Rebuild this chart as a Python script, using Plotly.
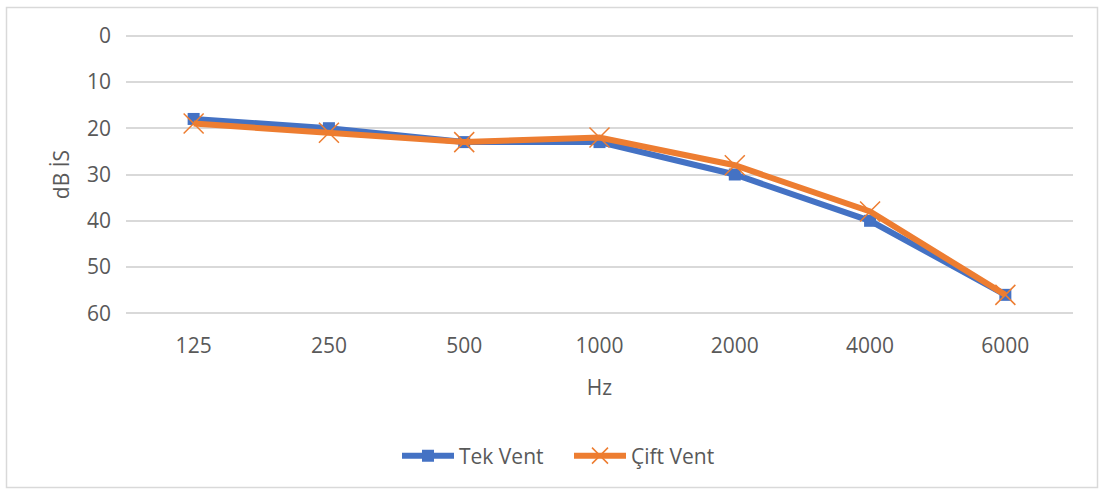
import plotly.graph_objects as go

# Audiogram-style data: hearing level (dB İS) per frequency (Hz)
frequencies = ["125", "250", "500", "1000", "2000", "4000", "6000"]
tek_vent = [18, 20, 23, 23, 30, 40, 56]
cift_vent = [19, 21, 23, 22, 28, 38, 56]

BLUE = "#4472C4"
ORANGE = "#ED7D31"
TEXT = "#595959"
GRID = "#D9D9D9"
FONT = "Open Sans"
FS = 21

fig = go.Figure()

fig.add_trace(go.Scatter(
    x=frequencies, y=tek_vent, name="Tek Vent", mode="lines+markers",
    line=dict(color=BLUE, width=6),
    marker=dict(symbol="square", size=12, color=BLUE),
))
fig.add_trace(go.Scatter(
    x=frequencies, y=cift_vent, name="Çift Vent", mode="lines+markers",
    line=dict(color=ORANGE, width=6),
    marker=dict(symbol="x-thin", size=20, color=ORANGE,
                line=dict(color=ORANGE, width=1.5)),
))

W, H = 1101, 492
L, R, T, B = 126, 28, 31, 174
pw, ph = W - L - R, H - T - B

def px_to_paper_x(px):
    return (px - L) / pw

def px_to_paper_y(py):
    return 1 - (py - T) / ph

fig.update_layout(
    width=W, height=H,
    margin=dict(l=L, r=R, t=T, b=B),
    paper_bgcolor="white", plot_bgcolor="white",
    font=dict(family=FONT, color=TEXT, size=FS),
    showlegend=True,
    legend=dict(orientation="h", x=px_to_paper_x(397), xanchor="left",
                y=px_to_paper_y(456), yanchor="middle",
                font=dict(size=FS, color=TEXT), itemwidth=52,
                entrywidth=105, traceorder="normal"),
    xaxis=dict(
        type="category", range=[-0.5, 6.5],
        showgrid=False, zeroline=False, showline=False, ticks="",
        ticklabelstandoff=13,
        title=dict(text="Hz", standoff=22, font=dict(size=FS, color=TEXT)),
    ),
    yaxis=dict(
        range=[61, -1], tickmode="array", tickvals=[0, 10, 20, 30, 40, 50, 60],
        showgrid=True, gridcolor=GRID, gridwidth=1.5,
        zeroline=False, showline=False, ticks="",
        ticklabelstandoff=14,
        title=dict(text="dB İS", standoff=11, font=dict(size=FS, color=TEXT)),
    ),
    shapes=[dict(
        type="rect", xref="paper", yref="paper",
        x0=px_to_paper_x(6.5), x1=px_to_paper_x(1097.5),
        y0=px_to_paper_y(487.5), y1=px_to_paper_y(7.5),
        line=dict(color="#D9D9D9", width=1.5), fillcolor="rgba(0,0,0,0)",
        layer="below",
    )],
)

fig.write_html("out.html")
